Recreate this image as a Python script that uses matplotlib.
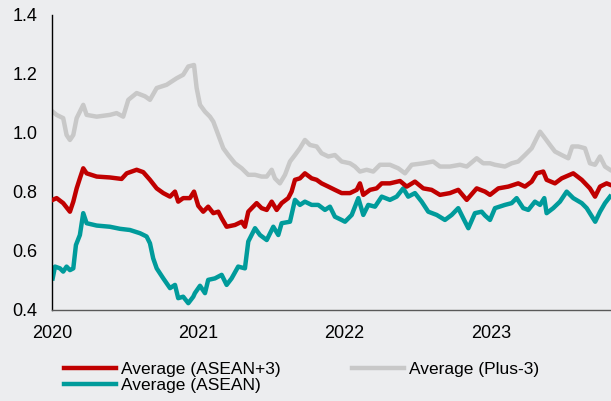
import matplotlib
matplotlib.use("Agg")
import matplotlib.pyplot as plt

# Series (x in decimal years)
plus3_t = [2020.005, 2020.032, 2020.077, 2020.100, 2020.123, 2020.146, 2020.169, 2020.214,
           2020.237, 2020.306, 2020.396, 2020.442, 2020.487, 2020.522, 2020.579, 2020.636,
           2020.670, 2020.716, 2020.784, 2020.852, 2020.897, 2020.932, 2020.971, 2020.989,
           2021.012, 2021.046, 2021.080, 2021.103, 2021.137, 2021.171, 2021.205, 2021.251,
           2021.297, 2021.342, 2021.388, 2021.433, 2021.468, 2021.502, 2021.524, 2021.558,
           2021.593, 2021.627, 2021.661, 2021.695, 2021.729, 2021.764, 2021.809, 2021.843,
           2021.889, 2021.934, 2021.980, 2022.037, 2022.071, 2022.105, 2022.151, 2022.196,
           2022.242, 2022.310, 2022.367, 2022.413, 2022.459, 2022.538, 2022.606, 2022.652,
           2022.720, 2022.789, 2022.835, 2022.903, 2022.948, 2022.994, 2023.028, 2023.096,
           2023.142, 2023.187, 2023.233, 2023.279, 2023.313, 2023.336, 2023.370, 2023.404,
           2023.438, 2023.484, 2023.529, 2023.556, 2023.597, 2023.643, 2023.677, 2023.712,
           2023.746, 2023.780, 2023.814]
plus3_v = [1.072, 1.061, 1.050, 0.993, 0.976, 0.993, 1.050, 1.095,
           1.061, 1.055, 1.061, 1.067, 1.055, 1.112, 1.135, 1.124,
           1.112, 1.152, 1.163, 1.185, 1.197, 1.225, 1.230, 1.152,
           1.095, 1.072, 1.055, 1.038, 0.993, 0.948, 0.925, 0.897,
           0.880, 0.858, 0.858, 0.852, 0.852, 0.875, 0.846, 0.829,
           0.858, 0.903, 0.925, 0.948, 0.976, 0.959, 0.954, 0.931,
           0.920, 0.925, 0.903, 0.897, 0.886, 0.869, 0.875, 0.869,
           0.892, 0.892, 0.880, 0.863, 0.892, 0.897, 0.903, 0.886,
           0.886, 0.892, 0.886, 0.914, 0.897, 0.897, 0.892, 0.886,
           0.897, 0.903, 0.925, 0.948, 0.982, 1.004, 0.982, 0.959,
           0.937, 0.925, 0.914, 0.954, 0.954, 0.948, 0.897, 0.892,
           0.920, 0.886, 0.875]

asean3_t = [2020.005, 2020.032, 2020.077, 2020.123, 2020.146, 2020.169, 2020.191, 2020.214,
            2020.237, 2020.306, 2020.396, 2020.476, 2020.511, 2020.579, 2020.624, 2020.670,
            2020.716, 2020.761, 2020.807, 2020.841, 2020.863, 2020.897, 2020.943, 2020.971,
            2021.000, 2021.034, 2021.068, 2021.103, 2021.137, 2021.160, 2021.194, 2021.251,
            2021.297, 2021.319, 2021.342, 2021.399, 2021.433, 2021.468, 2021.502, 2021.536,
            2021.570, 2021.615, 2021.638, 2021.661, 2021.695, 2021.729, 2021.775, 2021.809,
            2021.843, 2021.889, 2021.934, 2021.980, 2022.037, 2022.083, 2022.105, 2022.128,
            2022.174, 2022.219, 2022.254, 2022.310, 2022.379, 2022.425, 2022.481, 2022.538,
            2022.595, 2022.652, 2022.720, 2022.777, 2022.835, 2022.903, 2022.960, 2022.994,
            2023.051, 2023.119, 2023.187, 2023.233, 2023.279, 2023.313, 2023.358, 2023.381,
            2023.438, 2023.484, 2023.563, 2023.621, 2023.677, 2023.712, 2023.746, 2023.791,
            2023.821]
asean3_v = [0.773, 0.779, 0.762, 0.733, 0.767, 0.812, 0.846, 0.880,
            0.863, 0.852, 0.849, 0.844, 0.863, 0.875, 0.867, 0.841,
            0.812, 0.796, 0.784, 0.801, 0.767, 0.779, 0.779, 0.801,
            0.753, 0.733, 0.750, 0.728, 0.733, 0.711, 0.682, 0.688,
            0.699, 0.682, 0.733, 0.762, 0.745, 0.739, 0.767, 0.739,
            0.762, 0.779, 0.801, 0.841, 0.846, 0.863, 0.846, 0.841,
            0.829, 0.818, 0.807, 0.796, 0.796, 0.807, 0.829, 0.790,
            0.807, 0.812, 0.829, 0.829, 0.837, 0.818, 0.835, 0.812,
            0.807, 0.790, 0.796, 0.807, 0.773, 0.812, 0.801, 0.790,
            0.812, 0.818, 0.829, 0.818, 0.835, 0.863, 0.869, 0.841,
            0.829, 0.846, 0.863, 0.841, 0.812, 0.784, 0.818, 0.829,
            0.823]

asean_t = [2020.005, 2020.021, 2020.055, 2020.077, 2020.100, 2020.123, 2020.146, 2020.164,
           2020.191, 2020.214, 2020.237, 2020.306, 2020.396, 2020.465, 2020.533, 2020.602,
           2020.647, 2020.670, 2020.692, 2020.716, 2020.761, 2020.807, 2020.841, 2020.863,
           2020.897, 2020.932, 2020.966, 2020.977, 2021.012, 2021.046, 2021.068, 2021.114,
           2021.160, 2021.194, 2021.228, 2021.273, 2021.319, 2021.342, 2021.388, 2021.422,
           2021.468, 2021.513, 2021.547, 2021.570, 2021.627, 2021.661, 2021.695, 2021.729,
           2021.775, 2021.820, 2021.866, 2021.900, 2021.934, 2021.980, 2022.003, 2022.049,
           2022.094, 2022.128, 2022.162, 2022.208, 2022.254, 2022.310, 2022.356, 2022.401,
           2022.435, 2022.481, 2022.527, 2022.572, 2022.630, 2022.686, 2022.732, 2022.777,
           2022.811, 2022.846, 2022.891, 2022.937, 2022.960, 2022.994, 2023.028, 2023.096,
           2023.142, 2023.176, 2023.221, 2023.256, 2023.301, 2023.336, 2023.365, 2023.381,
           2023.426, 2023.472, 2023.518, 2023.563, 2023.621, 2023.655, 2023.684, 2023.713,
           2023.746, 2023.780, 2023.814]
asean_v = [0.507, 0.547, 0.541, 0.530, 0.547, 0.535, 0.541, 0.620,
           0.654, 0.728, 0.694, 0.686, 0.682, 0.675, 0.671, 0.660,
           0.649, 0.626, 0.575, 0.541, 0.507, 0.474, 0.485, 0.440,
           0.445, 0.423, 0.445, 0.457, 0.482, 0.457, 0.502, 0.507,
           0.519, 0.485, 0.507, 0.547, 0.541, 0.632, 0.677, 0.654,
           0.637, 0.682, 0.654, 0.694, 0.699, 0.773, 0.756, 0.767,
           0.756, 0.756, 0.739, 0.750, 0.716, 0.705, 0.699, 0.722,
           0.779, 0.722, 0.756, 0.750, 0.784, 0.773, 0.784, 0.812,
           0.784, 0.796, 0.767, 0.733, 0.722, 0.705, 0.722, 0.745,
           0.711, 0.677, 0.728, 0.733, 0.720, 0.705, 0.745, 0.756,
           0.762, 0.779, 0.745, 0.739, 0.767, 0.756, 0.779, 0.728,
           0.745, 0.767, 0.801, 0.779, 0.762, 0.745, 0.722, 0.699,
           0.733, 0.762, 0.784]

year_ticks = [2020, 2021, 2022, 2023]
y_ticks = [0.4, 0.6, 0.8, 1.0, 1.2, 1.4]

bg = "#ecedef"
plt.rcParams["font.family"] = ["Liberation Sans", "DejaVu Sans"]

fig = plt.figure(figsize=(6.11, 4.01), dpi=100, facecolor=bg)
ax = fig.add_axes([0.085, 0.227, 0.915, 0.736], facecolor=bg)

ax.plot(asean3_t, asean3_v, color="#c00000", lw=3.2, label="Average (ASEAN+3)", zorder=3)
ax.plot(asean_t, asean_v, color="#009b9b", lw=3.2, label="Average (ASEAN)", zorder=2)
ax.plot(plus3_t, plus3_v, color="#c8c8c8", lw=3.2, label="Average (Plus-3)", zorder=1)

ax.set_xlim(2020, 2023.821)
ax.set_ylim(0.4, 1.4)
ax.set_xticks(year_ticks)
ax.set_xticklabels([str(y) for y in year_ticks])
ax.set_yticks(y_ticks)
ax.set_yticklabels([f"{v:.1f}" for v in y_ticks])
ax.tick_params(axis="both", length=0, labelsize=13, colors="#000000")
ax.tick_params(axis="y", pad=10.5)
ax.tick_params(axis="x", pad=11)

for s in ["top", "right"]:
    ax.spines[s].set_visible(False)
ax.spines["left"].set_color("#000000")
ax.spines["left"].set_linewidth(1)
ax.spines["bottom"].set_color("#595959")
ax.spines["bottom"].set_linewidth(1)

fig.legend(loc="upper left", bbox_to_anchor=(0.104, 0.097), ncol=2, frameon=False,
           fontsize=12.5, handlelength=3.0, handletextpad=0.3, columnspacing=4.1,
           labelspacing=0.05, borderpad=0, borderaxespad=0)

fig.savefig("out.png", dpi=100, facecolor=bg)
